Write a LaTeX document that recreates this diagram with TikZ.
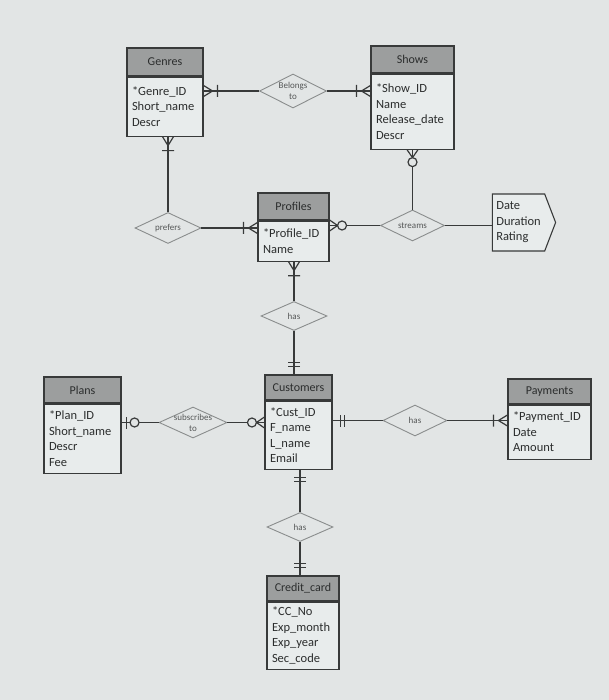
\documentclass[tikz,border=0pt]{standalone}
\usepackage{fontspec}
\setmainfont{Carlito}
\usetikzlibrary{positioning, shapes.geometric, shapes.symbols}

\definecolor{bgc}{HTML}{E2E5E5}
\definecolor{headc}{HTML}{9C9E9E}
\definecolor{bodyc}{HTML}{E8ECEC}
\definecolor{linec}{HTML}{383A3A}
\definecolor{relc}{HTML}{8A8D8D}
\definecolor{txtc}{HTML}{2B2D2D}

\tikzset{
  ehead/.style={draw=linec, fill=headc, line width=1.1pt, inner sep=0pt,
    font=\fontsize{12}{14}\selectfont, text=txtc},
  ebody/.style={draw=linec, fill=bodyc, line width=1.1pt, inner xsep=5pt, inner ysep=0pt,
    align=left, font=\fontsize{12.5}{15.5}\selectfont, text=txtc},
  rel/.style={diamond, draw=relc, fill=bgc, line width=0.9pt, inner sep=0pt,
    label={[font=\fontsize{9}{11}\selectfont, text=txtc!80, align=center]center:#1}},
  conn/.style={draw=linec, line width=1.2pt},
  endmark/.style={pos=1, sloped, allow upside down},
  crowbar/.pic={\draw[linec, line width=1.2pt] (-9,0) -- (0,5.5) (-9,0) -- (0,-5.5) (-14,-6) -- (-14,6);},
  crowring/.pic={\draw[linec, line width=1.2pt] (-8,0) -- (0,5.5) (-8,0) -- (0,-5.5);
    \draw[linec, line width=1.2pt, fill=bgc] (-12.5,0) circle (4.5);},
  dblbar/.pic={\draw[linec, line width=1.2pt] (-8,-6) -- (-8,6) (-12,-6) -- (-12,6);},
  barring/.pic={\draw[linec, line width=1.2pt] (-5,-6) -- (-5,6);
    \draw[linec, line width=1.2pt, fill=bgc] (-13,0) circle (4.5);}
}

\begin{document}
\begin{tikzpicture}[x=1pt, y=-1pt]
  \fill[bgc] (0,0) rectangle (609,700);
  \useasboundingbox (0,0) rectangle (609,700);

  % entities
  \node[ehead, minimum width=76pt, minimum height=28pt] (genh) at (165,62) {Genres};
  \node[ebody, text width=66pt, minimum height=59pt, below=0pt of genh] (genb) {*Genre\_ID\\Short\_name\\Descr};
  \node[ehead, minimum width=83pt, minimum height=27pt] (showh) at (412.5,59.5) {Shows};
  \node[ebody, text width=73pt, minimum height=75pt, below=0pt of showh] (showb) {*Show\_ID\\Name\\Release\_date\\Descr};
  \node[ehead, minimum width=71pt, minimum height=27pt] (profh) at (293.5,206.5) {Profiles};
  \node[ebody, text width=61pt, minimum height=40pt, below=0pt of profh] (profb) {*Profile\_ID\\Name};
  \node[ehead, minimum width=77pt, minimum height=26pt] (planh) at (82.5,390) {Plans};
  \node[ebody, text width=67pt, minimum height=69pt, below=0pt of planh] (planb) {*Plan\_ID\\Short\_name\\Descr\\Fee};
  \node[ehead, minimum width=67pt, minimum height=25pt] (custh) at (298.5,387.5) {Customers};
  \node[ebody, text width=57pt, minimum height=68pt, below=0pt of custh] (custb) {*Cust\_ID\\F\_name\\L\_name\\Email};
  \node[ehead, minimum width=83pt, minimum height=25pt] (payh) at (549.5,391.5) {Payments};
  \node[ebody, text width=73pt, minimum height=54pt, below=0pt of payh] (payb) {*Payment\_ID\\Date\\Amount};
  \node[ehead, minimum width=72pt, minimum height=25pt] (cch) at (303,588.5) {Credit\_card};
  \node[ebody, text width=62pt, minimum height=67pt, below=0pt of cch] (ccb) {*CC\_No\\Exp\_month\\Exp\_year\\Sec\_code};
  \node[signal, signal to=east, signal pointer angle=138, draw=linec, fill=bodyc, line width=1.1pt,
    minimum width=59pt, minimum height=57pt, inner xsep=4pt, align=left,
    font=\fontsize{12.5}{15.5}\selectfont, text=txtc] (att) at (518.5,222.5) {Date\\Duration\\Rating};

  % relationships
  \node[rel={Belongs\\to}, minimum width=67pt, minimum height=34pt] (bel) at (293,91) {};
  \node[rel=prefers, minimum width=66pt, minimum height=31pt] (pref) at (168,228) {};
  \node[rel=streams, minimum width=64pt, minimum height=31pt] (str) at (412.5,225.5) {};
  \node[rel=has, minimum width=66pt, minimum height=29pt] (hasA) at (294,316) {};
  \node[rel={subscribes\\to}, minimum width=68pt, minimum height=31pt] (sub) at (193,422.5) {};
  \node[rel=has, minimum width=64pt, minimum height=31pt] (hasP) at (415,420.5) {};
  \node[rel=has, minimum width=66pt, minimum height=29pt] (hasC) at (300,527) {};

  % connectors
  \draw[conn] (bel.west) -- (bel.west -| genb.east) pic[endmark]{crowbar};
  \draw[conn] (bel.east) -- (bel.east -| showb.west) pic[endmark]{crowbar};
  \draw[conn] (pref.north) -- (pref.north |- genb.south) pic[endmark]{crowbar};
  \draw[conn] (str.north) -- (str.north |- showb.south) pic[endmark]{crowring};
  \draw[conn] (pref.east) -- (pref.east -| profb.west) pic[endmark]{crowbar};
  \draw[conn] (str.west) -- (str.west -| profb.east) pic[endmark]{crowring};
  \draw[conn] (str.east) -- (str.east -| att.west);
  \draw[conn] (hasA.north) -- (hasA.north |- profb.south) pic[endmark]{crowbar};
  \draw[conn] (hasA.south) -- (hasA.south |- custh.north) pic[endmark]{dblbar};
  \draw[conn] (sub.west) -- (sub.west -| planb.east) pic[endmark]{barring};
  \draw[conn] (sub.east) -- (sub.east -| custb.west) pic[endmark]{crowring};
  \draw[conn] (hasP.west) -- (hasP.west -| custb.east) pic[endmark]{dblbar};
  \draw[conn] (hasP.east) -- (hasP.east -| payb.west) pic[endmark]{crowbar};
  \draw[conn] (hasC.north) -- (hasC.north |- custb.south) pic[endmark]{dblbar};
  \draw[conn] (hasC.south) -- (hasC.south |- cch.north) pic[endmark]{dblbar};
\end{tikzpicture}
\end{document}
